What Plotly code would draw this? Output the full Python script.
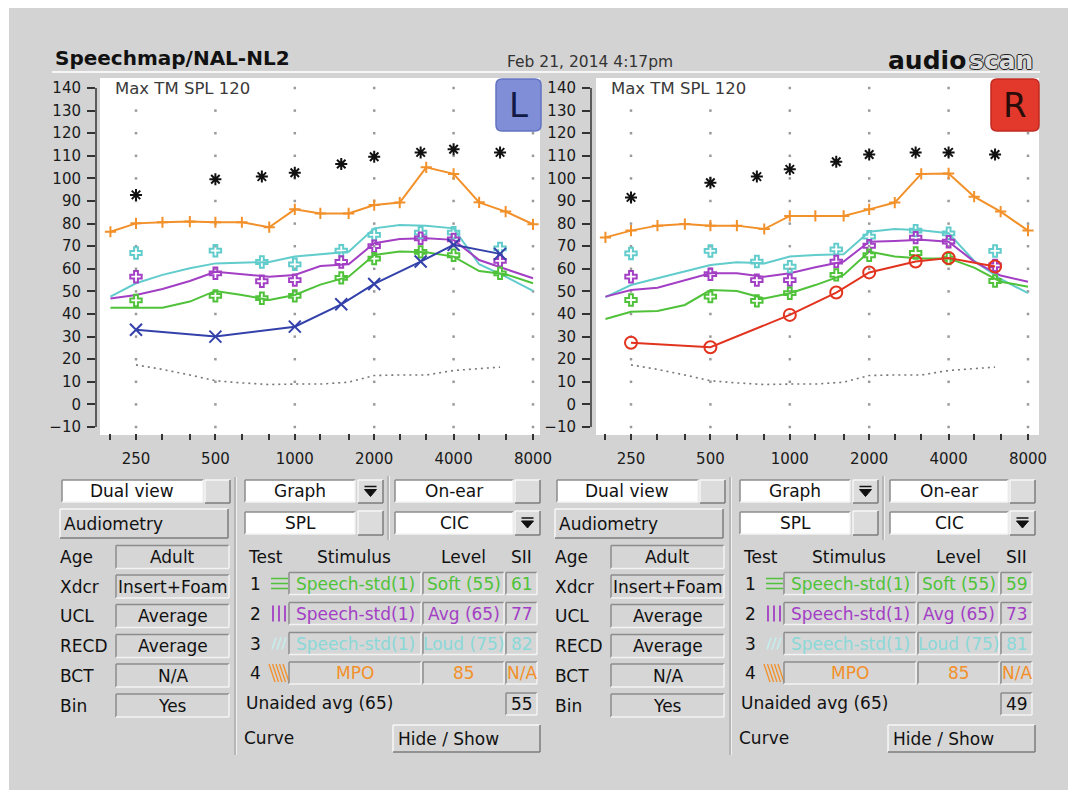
import math
import plotly.graph_objects as go

# ---------------- data ----------------
FREQ_13 = [200, 250, 315, 400, 500, 630, 800, 1000, 1250, 1600, 2000, 2500, 3150, 4000, 5000, 6300, 8000]
TICK_LABELS = ['', '250', '', '', '500', '', '', '1000', '', '', '2000', '', '', '4000', '', '', '8000']
AUDIO_FREQ = [250, 500, 750, 1000, 1500, 2000, 3000, 4000, 6000]
THRESH_FREQ = [250, 500, 1000, 1500, 2000, 3000, 4000, 6000]
NORM_FREQ = [250, 315, 400, 500, 630, 800, 1000, 1250, 1600, 2000, 2500, 3150, 4000, 5000, 6000]
GRID_FREQ = [250, 500, 1000, 2000, 4000, 8000]
Y_TICKS = list(range(-10, 150, 10))

left_soft = [42.8, 42.8, 42.8, 45.5, 50.2, 48.4, 46.2, 48.4, 53.0, 56.5, 66.1, 67.6, 67.3, 65.4, 59.0, 57.6, 53.6]
left_avg = [46.9, 48.4, 51.1, 54.6, 58.7, 57.5, 56.5, 57.3, 61.2, 62.0, 71.3, 73.2, 73.5, 72.8, 63.9, 59.9, 55.8]
left_loud = [47.7, 53.6, 57.3, 60.2, 62.4, 62.7, 63.0, 65.4, 66.3, 67.5, 77.9, 79.4, 79.1, 77.9, 62.0, 56.5, 50.2]
left_mpo = [76.4, 80.1, 80.6, 80.9, 80.6, 80.6, 78.4, 86.3, 84.5, 84.5, 88.2, 89.3, 104.9, 102.0, 89.4, 85.3, 79.7]
left_ucl = [92.7, 99.6, 100.8, 102.5, 106.4, 109.6, 111.5, 112.9, 111.5]
left_thresh = [33.0, 30.0, 34.4, 44.3, 53.3, 63.2, 70.6, 66.6]
left_t_soft = [46.0, 48.0, 47.0, 48.0, 56.0, 64.5, 67.5, 66.0, 58.0]
left_t_avg = [56.5, 58.0, 54.5, 55.0, 63.0, 70.0, 73.5, 73.0, 63.5]
left_t_loud = [67.0, 68.0, 63.0, 62.0, 68.0, 75.0, 76.0, 76.0, 69.0]

right_soft = [37.8, 41.0, 41.3, 44.0, 50.6, 50.2, 46.9, 49.2, 52.8, 57.3, 67.6, 65.4, 64.6, 64.6, 60.5, 54.3, 52.1]
right_avg = [47.7, 50.6, 51.6, 55.0, 58.0, 58.0, 56.5, 58.0, 60.7, 63.2, 72.0, 72.3, 72.8, 72.0, 63.2, 57.0, 54.3]
right_loud = [47.5, 52.8, 55.8, 58.7, 61.7, 62.9, 62.4, 65.4, 66.1, 66.4, 76.4, 77.6, 77.1, 75.7, 63.5, 55.5, 49.2]
right_mpo = [73.9, 76.9, 79.1, 79.8, 79.1, 79.1, 77.6, 83.4, 83.4, 83.4, 86.3, 89.3, 102.0, 102.2, 91.9, 85.3, 76.9]
right_ucl = [91.6, 98.1, 100.8, 104.0, 107.4, 110.6, 111.5, 111.5, 110.6]
right_thresh = [27.3, 25.3, 39.6, 49.5, 58.4, 63.2, 64.8, 61.0]
right_t_soft = [46.2, 47.7, 45.8, 49.2, 57.3, 66.0, 67.0, 64.5, 54.6]
right_t_avg = [56.5, 57.6, 55.0, 55.0, 63.2, 70.2, 73.8, 72.0, 61.5]
right_t_loud = [66.8, 67.9, 63.2, 60.9, 68.6, 74.2, 76.9, 75.7, 67.9]

norm_thresh = [17.5, 15.5, 13.0, 10.5, 9.5, 8.8, 9.0, 9.0, 9.8, 12.8, 13.0, 13.0, 15.0, 15.8, 16.5]

LEFT_LABELS = ["Age", "Xdcr", "UCL", "RECD", "BCT", "Bin"]
LEFT_VALUES = ["Adult", "Insert+Foam", "Average", "Average", "N/A", "Yes"]
TEST_STIM = ["Speech-std(1)", "Speech-std(1)", "Speech-std(1)", "MPO"]
TEST_LEVEL = ["Soft (55)", "Avg (65)", "Loud (75)", "85"]
SII_LEFT = ["61", "77", "82", "N/A"]
SII_RIGHT = ["59", "73", "81", "N/A"]
UNAIDED_LEFT = "55"
UNAIDED_RIGHT = "49"

# ---------------- styling ----------------
C_GREEN = '#4fc23a'
C_PURPLE = '#a23fc4'
C_CYAN = '#62cccc'
C_ORANGE = '#f2902a'
C_BLUE = '#3341aa'
C_RED = '#e2331f'
C_PANEL = '#d3d3d3'
FONT = 'DejaVu Sans'
TXT = '#111111'

# page body has an 8px margin on every side; the figure fills the width in between
OFF = 8
FW, FH = 1061, 783
def X(p): return (p - OFF) / FW
def Y(p): return 1 - (p - OFF) / FH

shapes, annots = [], []

def rect(x0, y0, x1, y1, fill, line_color=None, lw=1, layer='above'):
    shapes.append(dict(type='rect', xref='paper', yref='paper', x0=X(x0), y0=Y(y0), x1=X(x1), y1=Y(y1),
                       fillcolor=fill, line=dict(color=line_color or fill, width=lw if line_color else 0), layer=layer))

def seg(x0, y0, x1, y1, color, w=1.0, layer='above'):
    shapes.append(dict(type='line', xref='paper', yref='paper', x0=X(x0), y0=Y(y0), x1=X(x1), y1=Y(y1),
                       line=dict(color=color, width=w), layer=layer))

def bevel(x0, y0, x1, y1, fill, mode):
    rect(x0, y0, x1, y1, fill)
    if mode == 'raised':
        tl, br = '#f7f7f7', '#7c7c7c'
    else:
        tl, br = '#8c8c8c', '#f3f3f3'
    seg(x0, y0, x1, y0, tl, 1.5); seg(x0, y0, x0, y1, tl, 1.5)
    seg(x0, y1, x1, y1, br, 1.5); seg(x1, y0, x1, y1, br, 1.5)

def text(x, y, s, size=17, color=TXT, anchor='left', family=FONT, bg=None, shadow=None):
    font = dict(family=family, size=size, color=color)
    if shadow:
        font['shadow'] = shadow
    a = dict(xref='paper', yref='paper', x=X(x), y=Y(y), text=s, showarrow=False,
             xanchor=anchor, yanchor='middle', font=font)
    if bg:
        a['bgcolor'] = bg
        a['borderpad'] = 0
    annots.append(a)

def rrect(x0, y0, x1, y1, r, fill, line):
    def P(x, y): return f"{X(x):.5f},{Y(y):.5f}"
    path = (f"M {P(x0+r, y0)} L {P(x1-r, y0)} Q {P(x1, y0)} {P(x1, y0+r)} "
            f"L {P(x1, y1-r)} Q {P(x1, y1)} {P(x1-r, y1)} L {P(x0+r, y1)} "
            f"Q {P(x0, y1)} {P(x0, y1-r)} L {P(x0, y0+r)} Q {P(x0, y0)} {P(x0+r, y0)} Z")
    shapes.append(dict(type='path', xref='paper', yref='paper', path=path, fillcolor=fill,
                       line=dict(color=line, width=1.5), layer='above'))

def dropdown(x0, y0, x1, y1):
    bevel(x0, y0, x1, y1, '#dcdcdc', 'raised')
    xc, yc = (x0 + x1) / 2, (y0 + y1) / 2
    path = f"M {X(xc-6):.5f},{Y(yc-2):.5f} L {X(xc+6):.5f},{Y(yc-2):.5f} L {X(xc):.5f},{Y(yc+5):.5f} Z"
    shapes.append(dict(type='path', xref='paper', yref='paper', path=path, fillcolor='#111',
                       line=dict(color='#111', width=1), layer='above'))
    seg(xc-6, yc-5, xc+6, yc-5, '#111', 1.5)

# ---------------- background ----------------
rect(9, 8, 1068, 790, C_PANEL, layer='below')
seg(52, 72, 1040, 72, '#f6f6f6', 2, layer='below')
rect(100, 78, 540, 435, 'white', layer='below')
rect(596, 78, 1039, 435, 'white', layer='below')

text(53, 58, '<b>Speechmap/NAL-NL2</b>', size=20, color='#111')
text(505, 62, 'Feb 21, 2014 4:17pm', size=15.5, color='#333')
text(968, 60, '<b>audio</b>', size=25, color='#111', anchor='right')
text(967, 60, '<b>scan</b>', size=25, color='#dcdcdc', anchor='left',
     shadow='1px 0 0 #222, -1px 0 0 #222, 0 1px 0 #222, 0 -1px 0 #222')

# ---------------- plots ----------------
fig = go.Figure()
X_RANGE = [math.log10(250) - 40 / 79.4 * math.log10(2), math.log10(8000) + 7 / 79.4 * math.log10(2)]
Y_RANGE = [-10 - 13 / 2.26, 140 + 10 / 2.26]

def add_plot(xa, ya, soft, avg, loud, mpo, ucl, thresh, t_soft, t_avg, t_loud, th_color, th_symbol):
    gx = [f for f in GRID_FREQ for _ in Y_TICKS]
    gy = [v for _ in GRID_FREQ for v in Y_TICKS]
    fig.add_trace(go.Scatter(x=gx, y=gy, mode='markers', xaxis=xa, yaxis=ya,
                             marker=dict(symbol='square', size=2.5, color='#9a9a9a')))
    fig.add_trace(go.Scatter(x=NORM_FREQ, y=norm_thresh, mode='lines', xaxis=xa, yaxis=ya,
                             line=dict(color='#777', width=1.6, dash='2px,4px')))
    for vals, col in [(loud, C_CYAN), (avg, C_PURPLE), (soft, C_GREEN)]:
        fig.add_trace(go.Scatter(x=FREQ_13, y=vals, mode='lines', xaxis=xa, yaxis=ya,
                                 line=dict(color=col, width=2)))
    for vals, col in [(t_loud, C_CYAN), (t_avg, C_PURPLE), (t_soft, C_GREEN)]:
        fig.add_trace(go.Scatter(x=AUDIO_FREQ, y=vals, mode='markers', xaxis=xa, yaxis=ya,
                                 marker=dict(symbol='cross-open', size=9.5, color=col,
                                             line=dict(color=col, width=2))))
    fig.add_trace(go.Scatter(x=FREQ_13, y=mpo, mode='lines+markers', xaxis=xa, yaxis=ya,
                             line=dict(color=C_ORANGE, width=2),
                             marker=dict(symbol='cross-thin', size=8, color=C_ORANGE,
                                         line=dict(color=C_ORANGE, width=2))))
    fig.add_trace(go.Scatter(x=AUDIO_FREQ, y=ucl, mode='markers', xaxis=xa, yaxis=ya,
                             marker=dict(symbol='asterisk-open', size=10, color='#111',
                                         line=dict(color='#111', width=2))))
    fig.add_trace(go.Scatter(x=THRESH_FREQ, y=thresh, mode='lines+markers', xaxis=xa, yaxis=ya,
                             line=dict(color=th_color, width=2),
                             marker=dict(symbol=th_symbol, size=12, color=th_color,
                                         line=dict(color=th_color, width=2))))

add_plot('x', 'y', left_soft, left_avg, left_loud, left_mpo, left_ucl, left_thresh,
         left_t_soft, left_t_avg, left_t_loud, C_BLUE, 'x-thin-open')
add_plot('x2', 'y2', right_soft, right_avg, right_loud, right_mpo, right_ucl, right_thresh,
         right_t_soft, right_t_avg, right_t_loud, C_RED, 'circle-open')

tickfont = dict(family=FONT, size=15, color='#1a1a1a')
xcommon = dict(type='log', range=X_RANGE, tickvals=FREQ_13, ticktext=TICK_LABELS, ticks='inside',
               ticklen=6, tickwidth=1.5, tickcolor='#333', showgrid=False, zeroline=False,
               showline=False, tickfont=tickfont, ticklabelstandoff=8, fixedrange=True, automargin=False)
ycommon = dict(range=Y_RANGE, tickvals=Y_TICKS, ticks='outside', ticklen=8, tickwidth=1.5,
               tickcolor='#333', showgrid=False, zeroline=False, showline=False, tickfont=tickfont,
               ticklabelstandoff=3, fixedrange=True, automargin=False)

PLOT_Y = [Y(440), Y(78)]
fig.update_layout(
    xaxis=dict(domain=[X(96), X(540)], anchor='y', **xcommon),
    yaxis=dict(domain=PLOT_Y, anchor='x', **ycommon),
    xaxis2=dict(domain=[X(591), X(1035)], anchor='y2', **xcommon),
    yaxis2=dict(domain=PLOT_Y, anchor='x2', **ycommon),
)

for xa, ya, x_axis_px in [('x', 'y', 96), ('x2', 'y2', 591)]:
    shapes.append(dict(type='line', xref='paper', yref=ya, x0=X(x_axis_px), x1=X(x_axis_px), y0=-10, y1=140,
                       line=dict(color='#333', width=1.5), layer='above'))
    shapes.append(dict(type='line', xref=xa, yref='paper', x0=math.log10(FREQ_13[0]), x1=math.log10(FREQ_13[-1]),
                       y0=Y(440), y1=Y(440), line=dict(color='#333', width=1.5), layer='above'))

text(114, 88, 'Max TM SPL 120', size=16.5, color='#3a3a3a', bg='white')
text(610, 88, 'Max TM SPL 120', size=16.5, color='#3a3a3a', bg='white')
rrect(496, 79, 541, 131, 6, '#7f8ed6', '#6373c2')
text(518.5, 105, 'L', size=34, color='#121a45', anchor='center')
rrect(991, 79, 1039, 131, 6, '#e3392c', '#c02a20')
text(1015, 105, 'R', size=34, color='#2a0d0a', anchor='center')

# ---------------- control panels ----------------
ROW_COLORS = [C_GREEN, C_PURPLE, '#8ad8d8', C_ORANGE]

def panel(dx, sii, unaided):
    bevel(62+dx, 480, 203+dx, 502, 'white', 'sunken')
    text(132+dx, 491, 'Dual view', anchor='center')
    bevel(205+dx, 480, 230+dx, 503, '#dcdcdc', 'raised')
    bevel(60+dx, 509, 228+dx, 538, '#d6d6d6', 'raised')
    text(62+dx, 524, 'Audiometry')
    for lab, val, yc in zip(LEFT_LABELS, LEFT_VALUES, [557, 586.5, 616, 646, 675.5, 705.5]):
        text(58+dx, yc, lab)
        bevel(116+dx, yc-11.5, 229+dx, yc+11.5, '#d6d6d6', 'sunken')
        text(172.5+dx, yc, val, anchor='center')
    seg(235+dx, 477, 235+dx, 755, '#9a9a9a', 1)
    seg(236.5+dx, 477, 236.5+dx, 755, '#f0f0f0', 1)

    bevel(245+dx, 480, 355+dx, 502, 'white', 'sunken')
    text(300+dx, 491, 'Graph', anchor='center')
    dropdown(358+dx, 480, 383+dx, 503)
    bevel(245+dx, 512, 355+dx, 534, 'white', 'sunken')
    text(300+dx, 523, 'SPL', anchor='center')
    bevel(358+dx, 511, 383+dx, 535, '#dcdcdc', 'raised')
    seg(388+dx, 476, 388+dx, 540, '#9a9a9a', 1)
    seg(389.5+dx, 476, 389.5+dx, 540, '#f0f0f0', 1)
    bevel(395+dx, 480, 513+dx, 502, 'white', 'sunken')
    text(454+dx, 491, 'On-ear', anchor='center')
    bevel(515+dx, 480, 540+dx, 503, '#dcdcdc', 'raised')
    bevel(395+dx, 512, 513+dx, 534, 'white', 'sunken')
    text(454+dx, 523, 'CIC', anchor='center')
    dropdown(515+dx, 511, 540+dx, 535)

    text(246+dx, 557, 'Test')
    text(354+dx, 557, 'Stimulus', anchor='center')
    text(463+dx, 557, 'Level', anchor='center')
    text(521+dx, 557, 'SII', anchor='center')
    for i, (stim, lev, s, yc, col) in enumerate(zip(TEST_STIM, TEST_LEVEL, sii, [583.5, 613.5, 643.5, 673], ROW_COLORS)):
        text(255+dx, yc, str(i + 1), anchor='center')
        if i == 0:
            for k in (-5, 0, 5):
                seg(271+dx, yc+k, 288+dx, yc+k, col, 1.5)
        elif i == 1:
            for k in (273, 279, 285):
                seg(k+dx, yc-8, k+dx, yc+8, col, 1.8)
        elif i == 2:
            for k in (0, 5, 10):
                seg(272+k+dx, yc+6, 276+k+dx, yc-6, '#c6eeee', 1.5)
        else:
            for k in range(5):
                seg(269+3.5*k+dx, yc-9, 275+3.5*k+dx, yc+9, col, 1.3)
        bevel(289+dx, yc-11, 421+dx, yc+11, '#d6d6d6', 'sunken')
        bevel(423+dx, yc-11, 504+dx, yc+11, '#d6d6d6', 'sunken')
        bevel(506+dx, yc-11, 537+dx, yc+11, '#d6d6d6', 'sunken')
        text(355+dx, yc, stim, color=col, anchor='center')
        text(463.5+dx, yc, lev, color=col, anchor='center')
        text(521.5+dx, yc, s, color=col, anchor='center')
    text(244+dx, 703, 'Unaided avg (65)')
    bevel(506+dx, 693, 537+dx, 715, '#d6d6d6', 'sunken')
    text(521.5+dx, 704, unaided, anchor='center')
    text(242+dx, 738, 'Curve')
    bevel(393+dx, 725, 540+dx, 752, '#d6d6d6', 'raised')
    text(396+dx, 738.5, 'Hide / Show')

panel(0, SII_LEFT, UNAIDED_LEFT)
panel(495, SII_RIGHT, UNAIDED_RIGHT)

# width follows the page (autosize); height fixed
fig.update_layout(
    autosize=True, height=FH, margin=dict(l=0, r=0, t=0, b=0, autoexpand=False),
    paper_bgcolor='white', plot_bgcolor='rgba(0,0,0,0)',
    showlegend=False, hovermode=False,
    shapes=shapes, annotations=annots,
)
fig.write_html("out.html")
